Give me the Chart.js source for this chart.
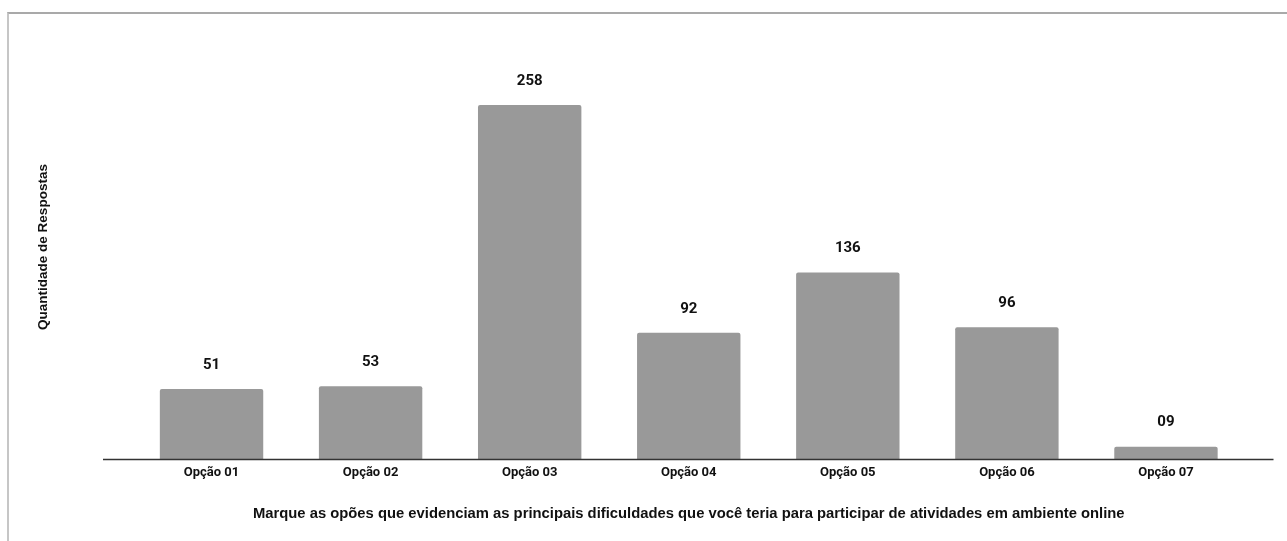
<!DOCTYPE html>
<html>
<head>
<meta charset="utf-8">
<script src="https://cdn.jsdelivr.net/npm/chart.js@4.4.1/dist/chart.umd.min.js"></script>
<style>
  html, body { margin: 0; padding: 0; background: #fff; }
  #wrap { position: relative; width: 1287px; height: 541px; }
  #frame { position: absolute; left: 7px; top: 12px; right: 0; bottom: 0;
    border-top: 2px solid #a9a9a9; border-left: 2px solid #c6c6c6; }
  canvas { position: absolute; left: 0; top: 0; }
</style>
</head>
<body>
<div id="wrap">
  <div id="frame"></div>
  <canvas id="chart" width="1287" height="541"></canvas>
</div>
<script>
const categories = ['Opção 01', 'Opção 02', 'Opção 03', 'Opção 04', 'Opção 05', 'Opção 06', 'Opção 07'];
const respostas = [51, 53, 258, 92, 136, 96, 9];
const valueLabels = ['51', '53', '258', '92', '136', '96', '09'];

const xTitle = 'Marque as opões que evidenciam as principais dificuldades que você teria para participar de atividades em ambiente online';
const yTitle = 'Quantidade de Respostas';

// value labels above bars + extended baseline
const barExtras = {
  id: 'barExtras',
  afterDatasetsDraw(chart) {
    const ctx = chart.ctx;
    const area = chart.chartArea;
    ctx.save();
    ctx.strokeStyle = '#333';
    ctx.lineWidth = 1.3;
    ctx.beginPath();
    ctx.moveTo(area.left - 29, area.bottom + 0.5);
    ctx.lineTo(area.right + 28, area.bottom + 0.5);
    ctx.stroke();

    ctx.fillStyle = '#111';
    ctx.font = 'bold 15px Roboto';
    ctx.textAlign = 'center';
    ctx.textBaseline = 'middle';
    chart.getDatasetMeta(0).data.forEach((bar, i) => {
      ctx.fillText(valueLabels[i], bar.x, bar.y - 24);
    });
    ctx.restore();
  }
};

new Chart(document.getElementById('chart').getContext('2d'), {
  type: 'bar',
  data: {
    labels: categories,
    datasets: [{
      data: respostas,
      backgroundColor: '#999999',
      borderRadius: { topLeft: 2, topRight: 2 },
      borderSkipped: 'bottom',
      barPercentage: 0.65,
      categoryPercentage: 1
    }]
  },
  options: {
    responsive: false,
    animation: false,
    layout: { padding: { left: 31, right: 41.5, top: 35, bottom: 14.6 } },
    plugins: { legend: { display: false }, tooltip: { enabled: false } },
    scales: {
      x: {
        grid: { display: false, drawTicks: false },
        border: { display: false },
        ticks: { color: '#111', font: { family: 'Roboto', size: 13, weight: 'bold' }, padding: 6 },
        title: { display: true, text: xTitle, color: '#111',
          font: { family: 'Liberation Sans', size: 14.8, weight: 'bold' } },
        afterFit(scale) { scale.height = 67.4; }
      },
      y: {
        min: 0,
        max: 309,
        grid: { display: false, drawTicks: false },
        border: { display: false },
        ticks: { display: false },
        title: { display: true, text: yTitle, color: '#111',
          font: { family: 'Liberation Sans', size: 13.5, weight: 'bold' } },
        afterFit(scale) { scale.width = 101; }
      }
    }
  },
  plugins: [barExtras]
});
</script>
</body>
</html>
